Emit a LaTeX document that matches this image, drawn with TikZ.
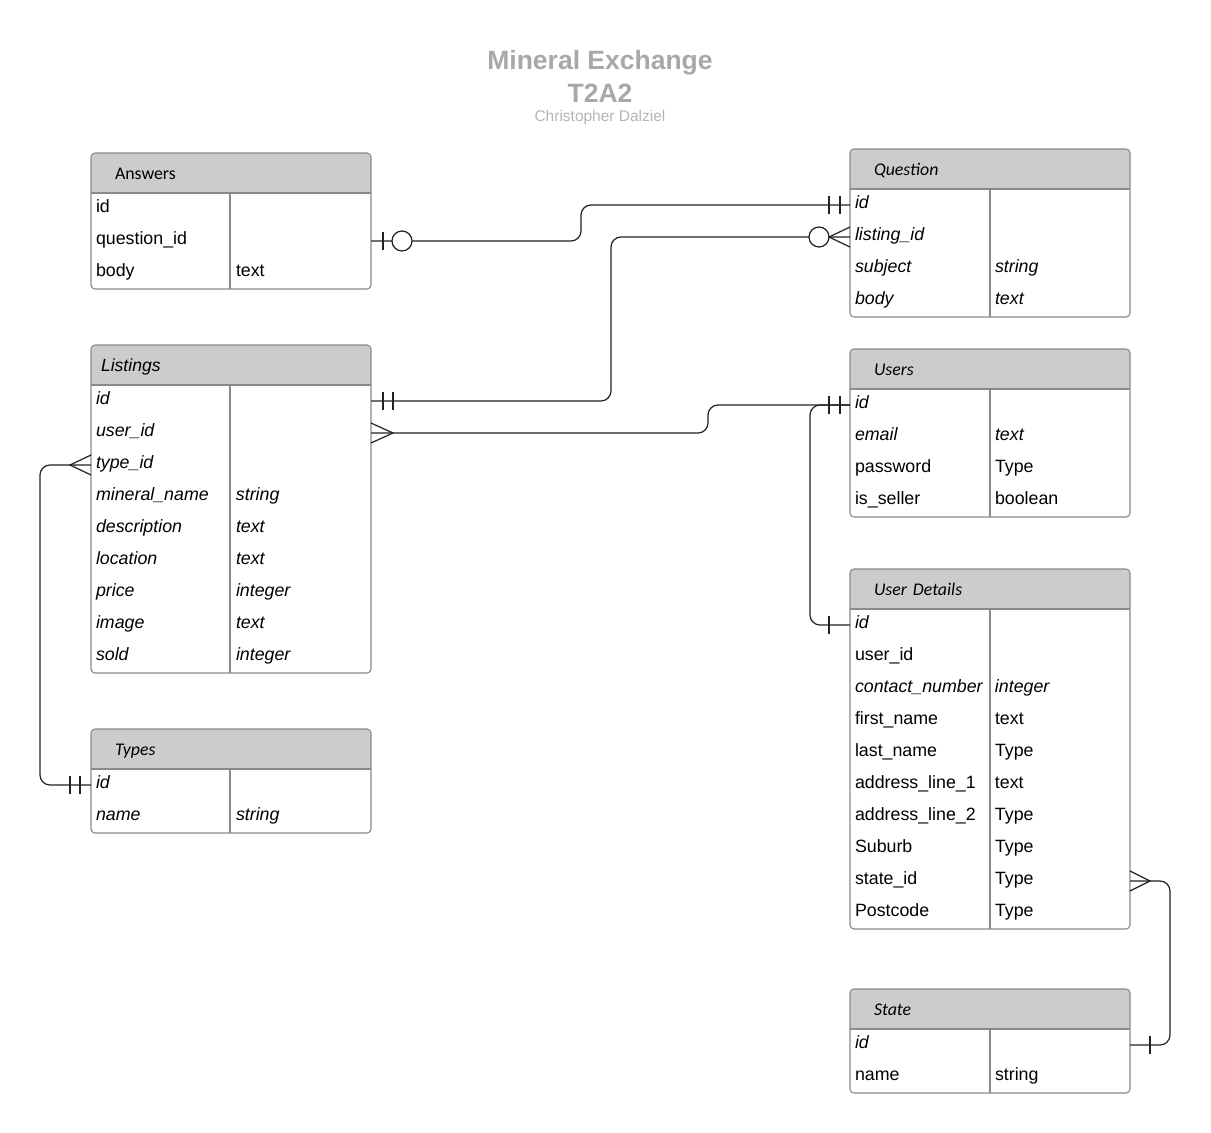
\documentclass[tikz,border=0pt]{standalone}
\usepackage{fontspec}
\usetikzlibrary{backgrounds}
\setmainfont{Liberation Sans}
\newfontfamily\hdrfont{Carlito}
\definecolor{hdrgray}{HTML}{CCCCCC}
\definecolor{tblgray}{HTML}{8A8A8A}
\definecolor{ttlgray}{HTML}{A8A8A8}
\definecolor{relblack}{HTML}{222222}
\newcommand\rowtxt[2]{\makebox[140pt][l]{#1}#2}

\begin{document}
\begin{tikzpicture}[x=1pt, y=-1pt,
    hdr/.style={anchor=north west, fill=hdrgray, rounded corners=4pt, outer sep=0pt,
      minimum width=280pt, minimum height=40pt, inner xsep=24pt, text width=232pt,
      text height=13pt, text depth=1pt, align=left,
      font=\hdrfont\itshape\fontsize{17.8}{20}\selectfont},
    hdrfoot/.style={fill=hdrgray},
    fld/.style={anchor=north west, outer sep=0pt, minimum height=32pt, inner xsep=5pt,
      inner ysep=0pt, text width=270pt, text height=13pt, text depth=6pt, align=left,
      font=\fontsize{17.8}{21}\selectfont},
    tbl/.style={draw=tblgray, line width=1.1pt, rounded corners=4pt},
    rel/.style={draw=relblack, line width=1.2pt},
    ttl/.style={text=ttlgray, font=\bfseries\fontsize{26.5}{30}\selectfont}]
  \useasboundingbox (0,0) rectangle (1211,1133);
  \begin{scope}[on background layer]
    \fill[white] (0,0) rectangle (1211,1133);
  \end{scope}

  % title
  \node[ttl] (ttl) at (600,63) {Mineral Exchange};
  \node[ttl] (code) at (600,93) {T2A2};
  \node[text=ttlgray!85, font=\fontsize{15.5}{18}\selectfont] (auth) at (600,117) {Christopher Dalziel};

  % Answers
  \node[hdr, font=\hdrfont\fontsize{17.8}{20}\selectfont] (ans) at (91,153) {Answers};
  \foreach \fn/\ty/\sh [count=\i] in {id//, question\_id//, body/text/}
    \node[fld] (ans-\i) at (91,161+32*\i) {\sh\rowtxt{\fn}{\ty}};
  \begin{scope}[on background layer]
    \fill[hdrfoot] (ans.south west) rectangle (ans.east);
  \end{scope}
  \draw[tbl] (ans.north west) rectangle (ans-3.south east);
  \draw[tbl] (ans.south west) -- (ans.south east) ([xshift=139pt]ans.south west) -- ([xshift=139pt]ans-3.south west);

  % Question
  \node[hdr] (qst) at (850,149) {Question};
  \foreach \fn/\ty/\sh [count=\i] in {id//\itshape, listing\_id//\itshape, subject/string/\itshape, body/text/\itshape}
    \node[fld] (qst-\i) at (850,157+32*\i) {\sh\rowtxt{\fn}{\ty}};
  \begin{scope}[on background layer]
    \fill[hdrfoot] (qst.south west) rectangle (qst.east);
  \end{scope}
  \draw[tbl] (qst.north west) rectangle (qst-4.south east);
  \draw[tbl] (qst.south west) -- (qst.south east) ([xshift=140pt]qst.south west) -- ([xshift=140pt]qst-4.south west);

  % Listings
  \node[hdr, inner xsep=10pt, text width=260pt, font=\itshape\fontsize{17.6}{20}\selectfont] (lst) at (91,345) {Listings};
  \foreach \fn/\ty/\sh [count=\i] in {id//\itshape, user\_id//\itshape, type\_id//\itshape,
      mineral\_name/string/\itshape, description/text/\itshape, location/text/\itshape,
      price/integer/\itshape, image/text/\itshape, sold/integer/\itshape}
    \node[fld] (lst-\i) at (91,353+32*\i) {\sh\rowtxt{\fn}{\ty}};
  \begin{scope}[on background layer]
    \fill[hdrfoot] (lst.south west) rectangle (lst.east);
  \end{scope}
  \draw[tbl] (lst.north west) rectangle (lst-9.south east);
  \draw[tbl] (lst.south west) -- (lst.south east) ([xshift=139pt]lst.south west) -- ([xshift=139pt]lst-9.south west);

  % Users
  \node[hdr] (usr) at (850,349) {Users};
  \foreach \fn/\ty/\sh [count=\i] in {id//\itshape, email/text/\itshape, password/Type/, is\_seller/boolean/}
    \node[fld] (usr-\i) at (850,357+32*\i) {\sh\rowtxt{\fn}{\ty}};
  \begin{scope}[on background layer]
    \fill[hdrfoot] (usr.south west) rectangle (usr.east);
  \end{scope}
  \draw[tbl] (usr.north west) rectangle (usr-4.south east);
  \draw[tbl] (usr.south west) -- (usr.south east) ([xshift=140pt]usr.south west) -- ([xshift=140pt]usr-4.south west);

  % User Details
  \node[hdr] (ud) at (850,569) {User Details};
  \foreach \fn/\ty/\sh [count=\i] in {id//\itshape, user\_id//, contact\_number/integer/\itshape,
      first\_name/text/, last\_name/Type/, address\_line\_1/text/, address\_line\_2/Type/,
      Suburb/Type/, state\_id/Type/, Postcode/Type/}
    \node[fld] (ud-\i) at (850,577+32*\i) {\sh\rowtxt{\fn}{\ty}};
  \begin{scope}[on background layer]
    \fill[hdrfoot] (ud.south west) rectangle (ud.east);
  \end{scope}
  \draw[tbl] (ud.north west) rectangle (ud-10.south east);
  \draw[tbl] (ud.south west) -- (ud.south east) ([xshift=140pt]ud.south west) -- ([xshift=140pt]ud-10.south west);

  % Types
  \node[hdr] (typ) at (91,729) {Types};
  \foreach \fn/\ty/\sh [count=\i] in {id//\itshape, name/string/\itshape}
    \node[fld] (typ-\i) at (91,737+32*\i) {\sh\rowtxt{\fn}{\ty}};
  \begin{scope}[on background layer]
    \fill[hdrfoot] (typ.south west) rectangle (typ.east);
  \end{scope}
  \draw[tbl] (typ.north west) rectangle (typ-2.south east);
  \draw[tbl] (typ.south west) -- (typ.south east) ([xshift=139pt]typ.south west) -- ([xshift=139pt]typ-2.south west);

  % State
  \node[hdr] (st) at (850,989) {State};
  \foreach \fn/\ty/\sh [count=\i] in {id//\itshape, name/string/}
    \node[fld] (st-\i) at (850,997+32*\i) {\sh\rowtxt{\fn}{\ty}};
  \begin{scope}[on background layer]
    \fill[hdrfoot] (st.south west) rectangle (st.east);
  \end{scope}
  \draw[tbl] (st.north west) rectangle (st-2.south east);
  \draw[tbl] (st.south west) -- (st.south east) ([xshift=140pt]st.south west) -- ([xshift=140pt]st-2.south west);

  % relations
  \draw[rel, rounded corners=10pt] (ans-2.east) -- ++(210,0) |- (qst-1.west);
  \draw[rel, rounded corners=10pt] (lst-1.east) -- ++(240,0) |- (qst-2.west);
  \draw[rel, rounded corners=10pt] (lst-2.east) -- ++(337,0) |- (usr-1.west);
  \draw[rel, rounded corners=10pt] (usr-1.west) -- ++(-40,0) |- (ud-1.west);
  \draw[rel, rounded corners=10pt] (lst-3.west) -- ++(-51,0) |- (typ-1.west);
  \draw[rel, rounded corners=10pt] (ud-9.east) -- ++(40,0) |- (st-1.east);

  % ends: zero or one / one and only one
  \draw[rel] ([xshift=12pt]ans-2.east) ++(0,-9) -- ++(0,18);
  \draw[rel, fill=white] ([xshift=31pt]ans-2.east) circle[radius=10pt];
  \draw[rel] ([xshift=-21pt]qst-1.west) ++(0,-9) -- ++(0,18) ([xshift=-10pt]qst-1.west) ++(0,-9) -- ++(0,18);
  \draw[rel] ([xshift=12pt]lst-1.east) ++(0,-9) -- ++(0,18) ([xshift=22pt]lst-1.east) ++(0,-9) -- ++(0,18);
  \draw[rel] ([xshift=-21pt]usr-1.west) ++(0,-9) -- ++(0,18) ([xshift=-10pt]usr-1.west) ++(0,-9) -- ++(0,18);
  \draw[rel] ([xshift=-21pt]ud-1.west) ++(0,-9) -- ++(0,18);
  \draw[rel] ([xshift=-21pt]typ-1.west) ++(0,-9) -- ++(0,18) ([xshift=-11pt]typ-1.west) ++(0,-9) -- ++(0,18);
  \draw[rel] ([xshift=20pt]st-1.east) ++(0,-9) -- ++(0,18);

  % ends: many
  \draw[rel, fill=white] ([xshift=-31pt]qst-2.west) circle[radius=10pt];
  \draw[rel] ([yshift=10pt]qst-2.west) -- ([xshift=-21pt]qst-2.west) -- ([yshift=-10pt]qst-2.west);
  \draw[rel] ([yshift=10pt]lst-2.east) -- ([xshift=22pt]lst-2.east) -- ([yshift=-10pt]lst-2.east);
  \draw[rel] ([yshift=10pt]lst-3.west) -- ([xshift=-21pt]lst-3.west) -- ([yshift=-10pt]lst-3.west);
  \draw[rel] ([yshift=10pt]ud-9.east) -- ([xshift=20pt]ud-9.east) -- ([yshift=-10pt]ud-9.east);
\end{tikzpicture}
\end{document}
